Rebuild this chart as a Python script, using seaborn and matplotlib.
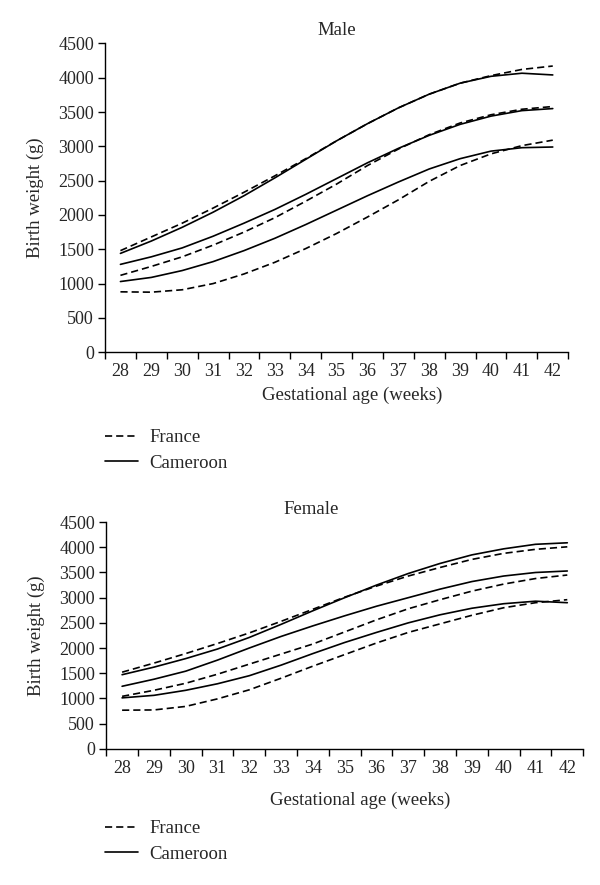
import numpy as np
import pandas as pd
import matplotlib
matplotlib.use('Agg')
import matplotlib.pyplot as plt
import seaborn as sns
from matplotlib.lines import Line2D

weeks = list(range(28, 43))

# Male curves (g), low / middle / high
male_france_low = [880, 875, 910, 1000, 1140, 1310, 1510, 1730, 1970, 2220, 2490, 2720, 2890, 3010, 3090]
male_france_mid = [1120, 1250, 1390, 1560, 1750, 1960, 2200, 2450, 2720, 2960, 3170, 3340, 3460, 3540, 3580]
male_france_high = [1480, 1680, 1880, 2100, 2330, 2570, 2820, 3080, 3330, 3560, 3760, 3920, 4030, 4120, 4170]
male_cam_low = [1030, 1090, 1190, 1320, 1480, 1660, 1860, 2070, 2280, 2480, 2670, 2820, 2930, 2980, 2990]
male_cam_mid = [1280, 1390, 1520, 1690, 1880, 2080, 2300, 2530, 2760, 2970, 3160, 3320, 3440, 3520, 3550]
male_cam_high = [1440, 1620, 1820, 2040, 2280, 2540, 2810, 3080, 3330, 3560, 3760, 3920, 4020, 4065, 4040]

# Female curves (g)
female_france_low = [765, 770, 840, 990, 1170, 1400, 1640, 1870, 2100, 2310, 2480, 2650, 2800, 2900, 2960]
female_france_mid = [1040, 1160, 1300, 1480, 1680, 1880, 2080, 2320, 2560, 2780, 2960, 3130, 3270, 3380, 3450]
female_france_high = [1520, 1700, 1890, 2090, 2300, 2530, 2770, 3010, 3230, 3430, 3600, 3760, 3880, 3960, 4010]
female_cam_low = [1010, 1060, 1160, 1290, 1450, 1660, 1890, 2110, 2310, 2500, 2660, 2790, 2880, 2930, 2900]
female_cam_mid = [1240, 1380, 1540, 1760, 2000, 2230, 2440, 2640, 2830, 3000, 3170, 3320, 3430, 3500, 3530]
female_cam_high = [1470, 1620, 1790, 1980, 2210, 2470, 2740, 3000, 3250, 3480, 3680, 3850, 3970, 4060, 4090]

week_labels = [str(w) for w in weeks]
y_ticks = list(range(0, 4501, 500))


def make_df(france, cameroon):
    rows = []
    for name, curves in [('France', france), ('Cameroon', cameroon)]:
        for i, vals in enumerate(curves):
            for w, v in zip(weeks, vals):
                rows.append({'week': w, 'weight': v, 'country': name, 'curve': i})
    return pd.DataFrame(rows)


male_df = make_df([male_france_low, male_france_mid, male_france_high],
                  [male_cam_low, male_cam_mid, male_cam_high])
female_df = make_df([female_france_low, female_france_mid, female_france_high],
                    [female_cam_low, female_cam_mid, female_cam_high])

sns.set_style('ticks')
plt.rcParams['font.family'] = ['Liberation Serif', 'DejaVu Serif']
fs = 13

fig = plt.figure(figsize=(6, 8.85), dpi=100)
ax1 = fig.add_axes([0.175, 0.602, 0.772, 0.349])
ax2 = fig.add_axes([0.177, 0.154, 0.795, 0.256])

dash = (4.3, 2.4)
lw = 1.2


def draw(ax, df, title, title_x):
    for (country, curve), g in df.groupby(['country', 'curve']):
        sns.lineplot(data=g, x='week', y='weight', ax=ax, color='black',
                     lw=lw, estimator=None, sort=True,
                     linestyle='--' if country == 'France' else '-')
    for line in ax.get_lines():
        if line.get_linestyle() == '--':
            line.set_dashes(dash)
    ax.set_xlim(27.5, 42.5)
    ax.set_ylim(0, 4500)
    ax.set_xticks(np.arange(27.5, 43, 1))
    ax.set_xticklabels([])
    ax.set_xticks(weeks, minor=True)
    ax.set_xticklabels(week_labels, minor=True, fontsize=fs)
    ax.tick_params(axis='x', which='minor', length=0, pad=8)
    ax.tick_params(axis='x', which='major', length=5, width=1, color='black')
    ax.set_yticks(y_ticks)
    ax.set_yticklabels([str(t) for t in y_ticks], fontsize=fs)
    ax.tick_params(axis='y', length=5, width=1, color='black', pad=3)
    for s in ['left', 'bottom']:
        ax.spines[s].set_color('black')
        ax.spines[s].set_linewidth(1)
    sns.despine(ax=ax)
    ax.set_xlabel('')
    ax.set_ylabel('Birth weight (g)', fontsize=fs + 0.5, labelpad=10)
    ax.set_title(title, fontsize=fs + 0.5, x=title_x, pad=6)


draw(ax1, male_df, 'Male', 0.5)
draw(ax2, female_df, 'Female', 0.43)

fig.text(0.587, 1 - 395 / 885, 'Gestational age (weeks)', ha='center', va='center', fontsize=fs + 0.5)
fig.text(0.600, 1 - 800 / 885, 'Gestational age (weeks)', ha='center', va='center', fontsize=fs + 0.5)

handles = [Line2D([], [], color='black', lw=lw, linestyle=(0, dash)),
           Line2D([], [], color='black', lw=lw)]
for ytop in [1 - 429 / 885, 1 - 820 / 885]:
    fig.legend(handles, ['France', 'Cameroon'], loc='upper left',
               bbox_to_anchor=(0.175, ytop), frameon=False, fontsize=fs + 0.5,
               handlelength=1.75, handletextpad=0.6, labelspacing=0.45,
               borderaxespad=0, borderpad=0)

fig.savefig('out.png', dpi=100)
